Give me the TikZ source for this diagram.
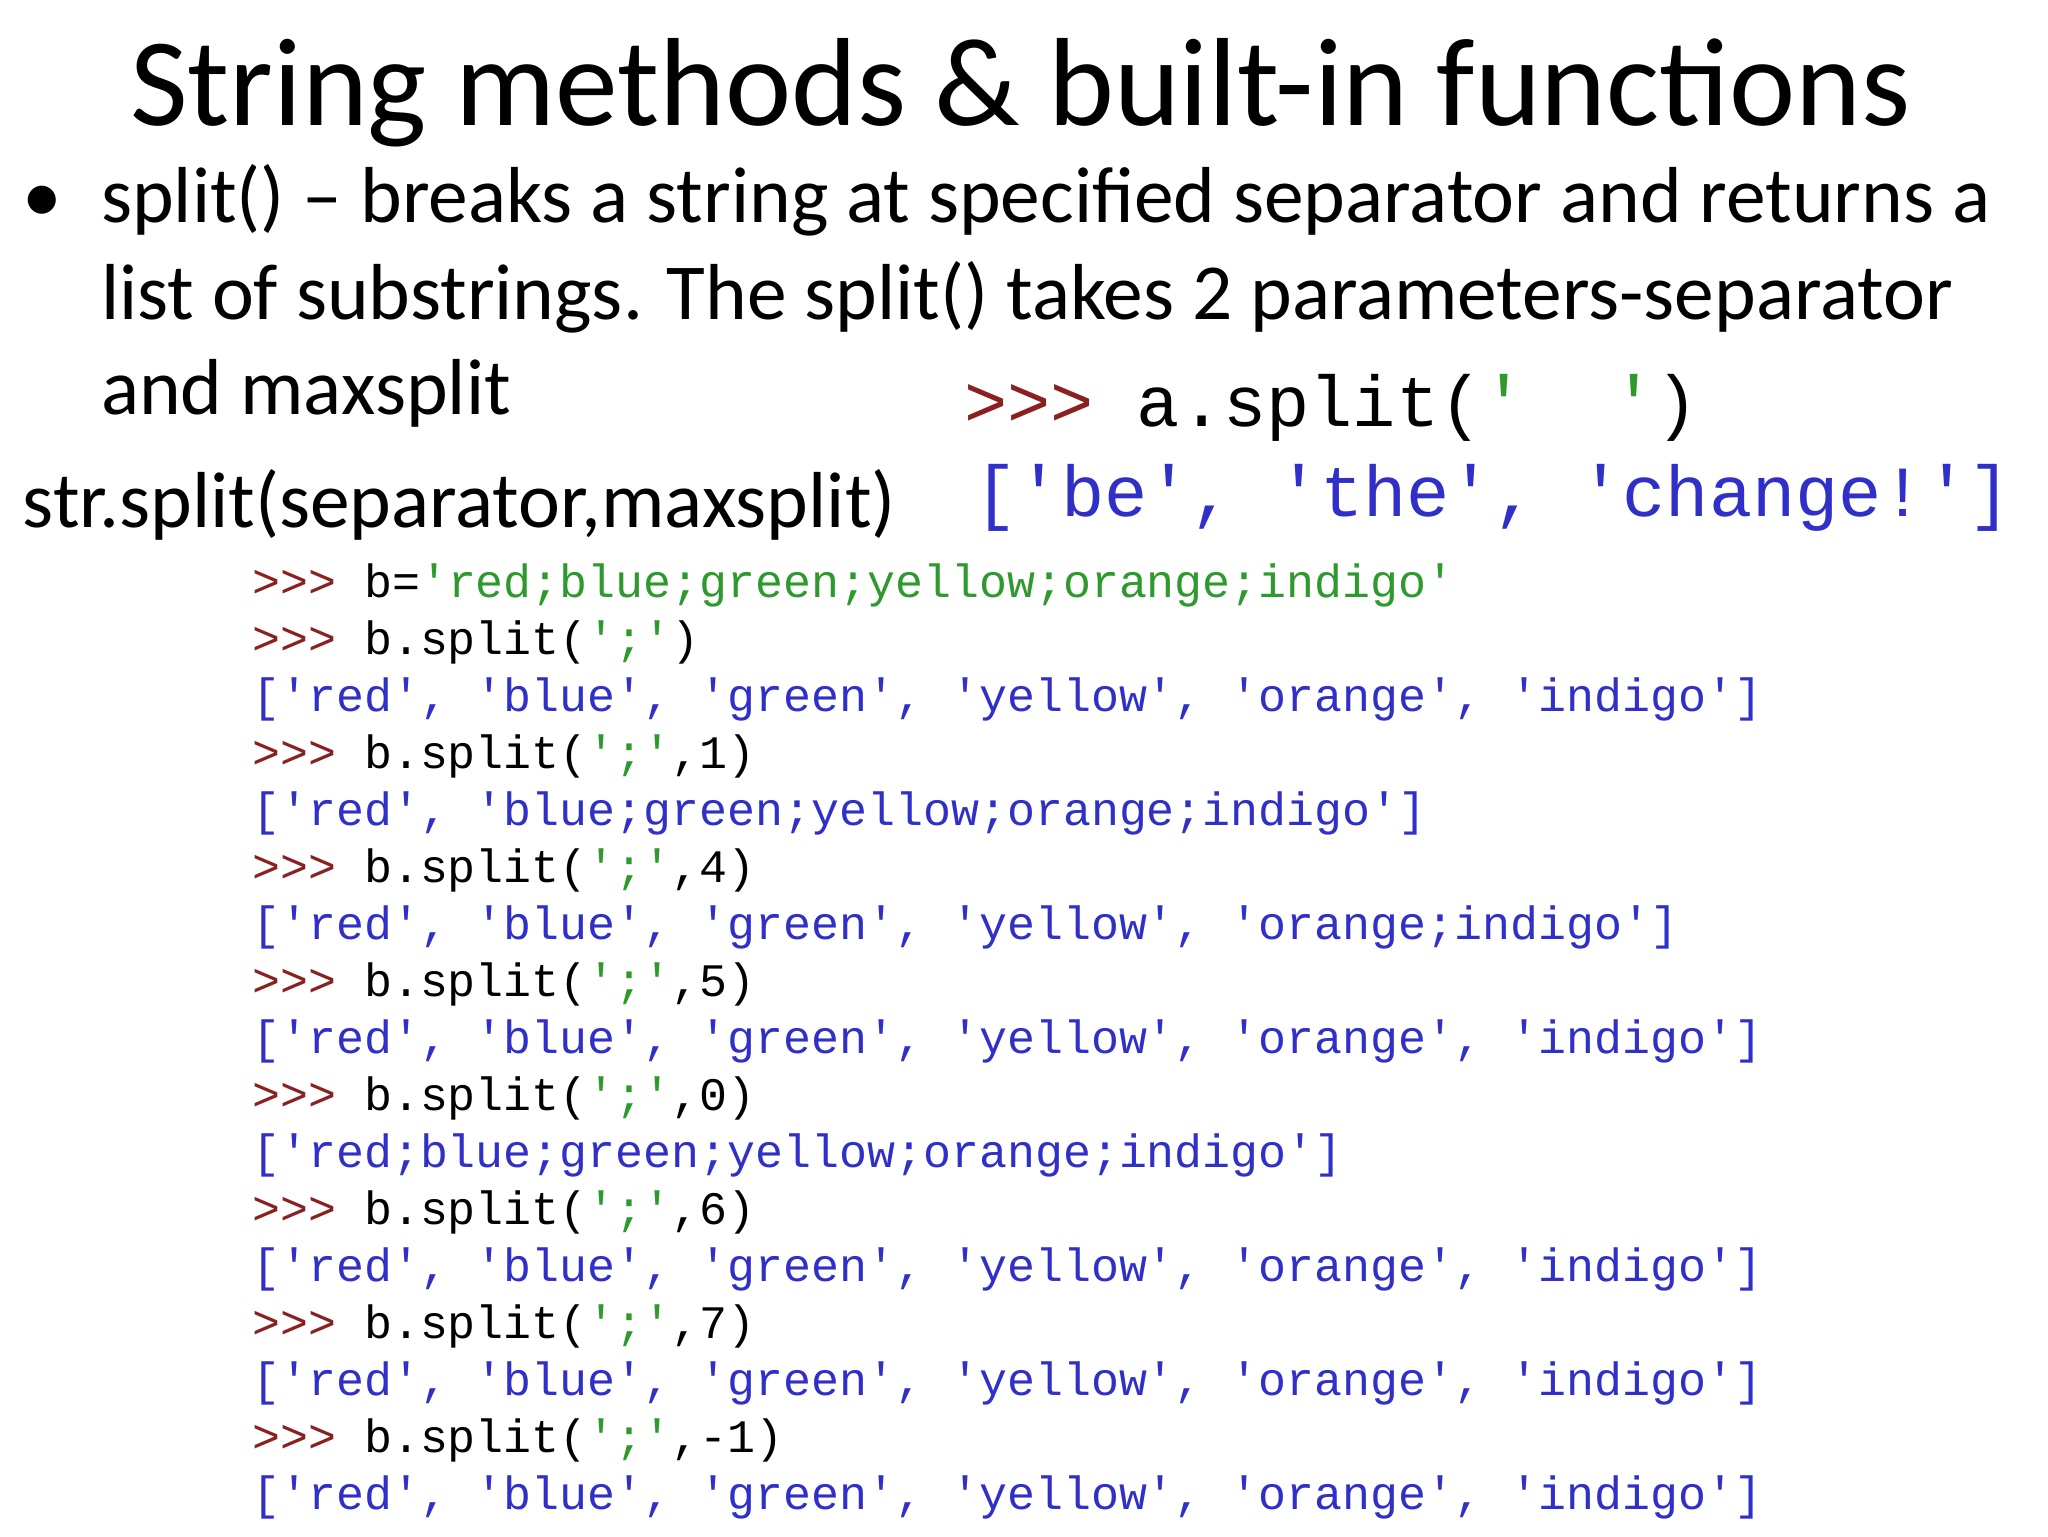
\documentclass[tikz,border=0pt]{standalone}
\usepackage{fontspec}
\setmainfont{Carlito}
\setmonofont{Liberation Mono}
\definecolor{pr}{HTML}{8B2020}
\definecolor{gs}{HTML}{2E9A2E}
\definecolor{bo}{HTML}{3030C8}
\newcommand{\Prm}{\textcolor{pr}{>>>}}
\newcommand{\G}[1]{\textcolor{gs}{#1}}
\newcommand{\B}[1]{\textcolor{bo}{#1}}
\tikzset{txt/.style={anchor=base west,inner sep=0pt},
 body/.style={txt,font=\fontsize{39.7}{44}\selectfont},
 code/.style={txt,font=\fontsize{23.3}{26}\ttfamily},
 bigcode/.style={txt,font=\fontsize{36}{40}\ttfamily}}
\begin{document}
\begin{tikzpicture}[x=0.6628pt,y=-0.6628pt]
\useasboundingbox (0,0) rectangle (1545,1159);
\fill[white] (0,0) rectangle (1545,1159);
\node[anchor=base,inner sep=0pt,font=\fontsize{62.7}{68}\selectfont] (title) at (770,95) {String methods \& built-in functions};
\node[body] (bul) at (17,168) {•};
\node[body] (l1) at (76,168) {split() – breaks a string at specified separator and returns a};
\node[body] (l2) at (76,241) {list of substrings. The split() takes 2 parameters-separator};
\node[body] (l3) at (76,313) {and maxsplit};
\node[body] (sig) at (17,398) {str.split(separator,maxsplit)};
\node[bigcode] (a1) at (727,322) {\Prm{} a.split(\G{'~~'})};
\node[bigcode] (a2) at (735,390) {\B{['be', 'the', 'change!']}};
\node[code] (c1) at (190,451) {\Prm{} b=\G{'red;blue;green;yellow;orange;indigo'}};
\node[code] (c2) at (190,494) {\Prm{} b.split(\G{';'})};
\node[code] (c3) at (190,537) {\B{['red', 'blue', 'green', 'yellow', 'orange', 'indigo']}};
\node[code] (c4) at (190,580) {\Prm{} b.split(\G{';'},1)};
\node[code] (c5) at (190,623) {\B{['red', 'blue;green;yellow;orange;indigo']}};
\node[code] (c6) at (190,666) {\Prm{} b.split(\G{';'},4)};
\node[code] (c7) at (190,709) {\B{['red', 'blue', 'green', 'yellow', 'orange;indigo']}};
\node[code] (c8) at (190,752) {\Prm{} b.split(\G{';'},5)};
\node[code] (c9) at (190,795) {\B{['red', 'blue', 'green', 'yellow', 'orange', 'indigo']}};
\node[code] (c10) at (190,838) {\Prm{} b.split(\G{';'},0)};
\node[code] (c11) at (190,881) {\B{['red;blue;green;yellow;orange;indigo']}};
\node[code] (c12) at (190,924) {\Prm{} b.split(\G{';'},6)};
\node[code] (c13) at (190,967) {\B{['red', 'blue', 'green', 'yellow', 'orange', 'indigo']}};
\node[code] (c14) at (190,1010) {\Prm{} b.split(\G{';'},7)};
\node[code] (c15) at (190,1053) {\B{['red', 'blue', 'green', 'yellow', 'orange', 'indigo']}};
\node[code] (c16) at (190,1096) {\Prm{} b.split(\G{';'},-1)};
\node[code] (c17) at (190,1139) {\B{['red', 'blue', 'green', 'yellow', 'orange', 'indigo']}};
\end{tikzpicture}
\end{document}
